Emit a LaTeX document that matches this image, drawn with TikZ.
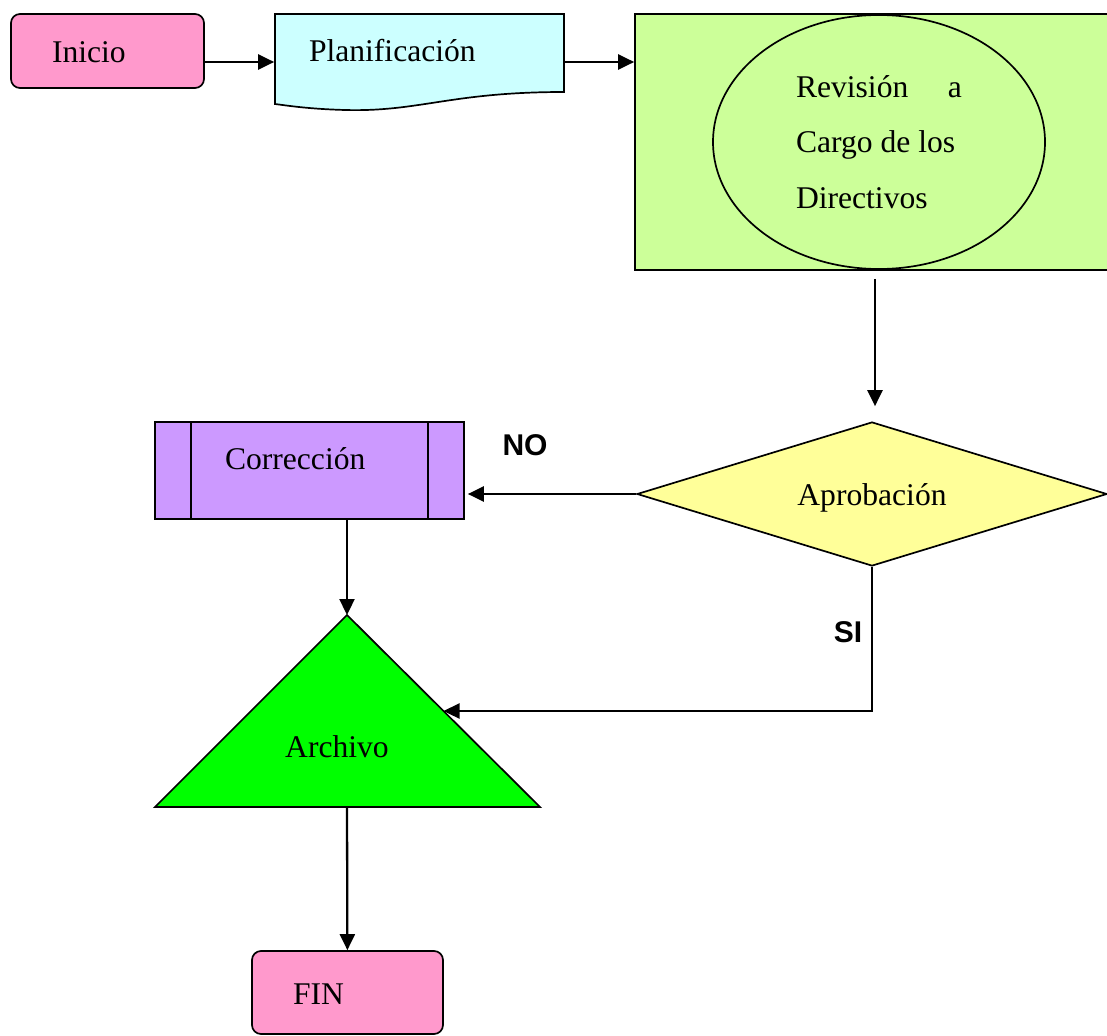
\documentclass[tikz,border=0pt]{standalone}
\usepackage{fontspec}
\setmainfont{Liberation Serif}
\newfontfamily\lblfont{Liberation Sans}
\usepackage{tikz}
\usetikzlibrary{arrows.meta, positioning, shapes.geometric, calc}

\definecolor{rosa}{HTML}{FF99CC}
\definecolor{celeste}{HTML}{CCFFFF}
\definecolor{verdeclaro}{HTML}{CCFF99}
\definecolor{amarillo}{HTML}{FFFF99}
\definecolor{lila}{HTML}{CC99FF}
\definecolor{lima}{HTML}{00FF00}

\begin{document}
\begin{tikzpicture}[x=1pt, y=-1pt, line width=1.7pt,
            font=\fontsize{31.6}{38}\selectfont,
            startend/.style={draw,fill=rosa,rounded corners=9pt,inner xsep=41pt,align=left,text height=24pt,text depth=0pt},
            arr/.style={-{Triangle[length=16pt,width=15pt]},line width=2.3pt},
            lbl/.style={font=\lblfont\bfseries\fontsize{30}{36}\selectfont}]

            \useasboundingbox (0,0) rectangle (1107,1035);

            % Inicio
            \node[startend,minimum width=193pt,minimum height=74pt,text width=111pt] (inicio) at (107.5,51) {Inicio};

            % Planificacion (document shape)
            \draw[fill=celeste] (275,14) -- (564,14) -- (564,92)
                .. controls (450,92) and (420,112) .. (345,110)
                .. controls (310,109) and (290,106) .. (275,104) -- cycle;
            \node[minimum width=289pt,minimum height=78pt,inner xsep=34pt,text width=221pt,align=left,
                text height=24pt,text depth=0pt] (plan) at (419.5,50) {Planificación};

            % Revision a cargo de los directivos
            \node[draw,fill=verdeclaro,minimum width=480pt,minimum height=256pt] (rev) at (875,142) {};
            \node[draw,ellipse,fill=verdeclaro,minimum width=332pt,minimum height=254pt,align=left,
                font=\fontsize{31.6}{55.5}\selectfont] (revell) at (879,142)
                {\makebox[166pt][s]{Revisión a}\\Cargo de los\\Directivos};

            % Aprobacion
            \node[draw,diamond,aspect=3.26,fill=amarillo,minimum width=470pt,minimum height=144pt,inner sep=0pt,
                text height=22pt,text depth=0pt] (apro) at (872,494) {Aprobación};

            % Correccion
            \node[draw,fill=lila,minimum width=309pt,minimum height=97pt,inner xsep=70pt,text width=169pt,align=left,
                text height=22pt,text depth=24pt] (corr) at (309.5,470.5) {Corrección};
            \draw ([xshift=37pt]corr.north west) -- ([xshift=37pt]corr.south west);
            \draw ([xshift=-37pt]corr.north east) -- ([xshift=-37pt]corr.south east);

            % Archivo
            \coordinate (archtop) at (347,615);
            \coordinate (archleft) at (155,807);
            \coordinate (archright) at (540,807);
            \coordinate (archedge) at ($(archtop)!0.5!(archright)$);
            \draw[fill=lima] (archtop) -- (archright) -- (archleft) -- cycle;
            \node (archivo) at (337,747) {Archivo};

            % FIN
            \node[startend,minimum width=191pt,minimum height=83pt,text width=109pt] (fin) at (347.5,992.5) {FIN};

            % Connectors
            \draw[arr] ([yshift=-11pt]inicio.east) -- ([yshift=-11pt]inicio.east -| plan.west);
            \draw[arr] ([yshift=-12pt]plan.east) -- ([yshift=-12pt]plan.east -| rev.west);
            \draw[arr,shorten <=8pt,shorten >=15pt] (rev.south) -- (rev.south |- apro.north);
            \draw[arr,shorten >=3pt] (apro.west) -- (apro.west -| corr.east);
            \node[lbl] (no) at (525,445) {NO};
            \draw[arr] (corr.south -| archtop) -- (archtop);
            \draw[arr] (apro.south) |- (archedge);
            \node[lbl] (si) at (848,632) {SI};
            \draw[arr] (archleft -| archtop) -- (fin);
\end{tikzpicture}
\end{document}
